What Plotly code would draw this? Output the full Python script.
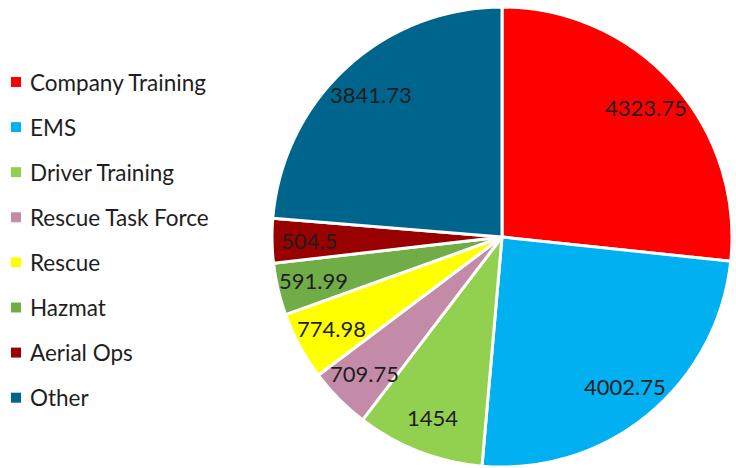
import math
import plotly.graph_objects as go

categories = ["Company Training", "EMS", "Driver Training", "Rescue Task Force",
              "Rescue", "Hazmat", "Aerial Ops", "Other"]
values = [4323.75, 4002.75, 1454, 709.75, 774.98, 591.99, 504.5, 3841.73]
value_labels = ["4323.75", "4002.75", "1454", "709.75", "774.98", "591.99", "504.5", "3841.73"]
colors = ["#FF0000", "#00B0F0", "#92D050", "#C48BA8", "#FFFF00", "#70AD47", "#990000", "#00658C"]

W, H = 736, 468
FONT = "Lato"
TXT = "#1E1E1E"

# pie geometry (pixels)
cx, cy, R = 502, 237, 230

fig = go.Figure(go.Pie(
    labels=categories,
    values=values,
    sort=False,
    direction="clockwise",
    rotation=0,
    marker=dict(colors=colors, line=dict(color="white", width=3)),
    textinfo="none",
    hoverinfo="label+value",
    showlegend=False,
    domain=dict(x=[(cx - R) / W, (cx + R) / W],
                y=[1 - (cy + R) / H, 1 - (cy - R) / H]),
))

annotations = []
shapes = []

# slice value labels placed along each slice's mid-angle
total = sum(values)
cum = 0.0
for v, lab in zip(values, value_labels):
    mid = (cum + v / 2) / total * 2 * math.pi
    cum += v
    r = 0.84 * R
    px = cx + r * math.sin(mid)
    py = cy - r * math.cos(mid)
    annotations.append(dict(
        x=px / W, y=1 - py / H, xref="paper", yref="paper",
        text=lab, showarrow=False, xanchor="center", yanchor="middle",
        font=dict(family=FONT, size=22, color=TXT),
    ))

# legend
leg_y0, leg_dy = 82, 45.1
for i, (name, c) in enumerate(zip(categories, colors)):
    yc = leg_y0 + i * leg_dy
    shapes.append(dict(
        type="rect", xref="paper", yref="paper",
        x0=11 / W, x1=21 / W, y0=1 - (yc + 5) / H, y1=1 - (yc - 5) / H,
        fillcolor=c, line=dict(width=0),
    ))
    annotations.append(dict(
        x=28 / W, y=1 - yc / H, xref="paper", yref="paper",
        text=name, showarrow=False, xanchor="left", yanchor="middle",
        font=dict(family=FONT, size=22.5, color=TXT),
    ))

fig.update_layout(
    width=W, height=H,
    margin=dict(l=0, r=0, t=0, b=0),
    paper_bgcolor="white",
    plot_bgcolor="white",
    annotations=annotations,
    shapes=shapes,
    showlegend=False,
)

fig.write_html("out.html", config={"displayModeBar": False},
               post_script="document.body.style.margin='0';")
